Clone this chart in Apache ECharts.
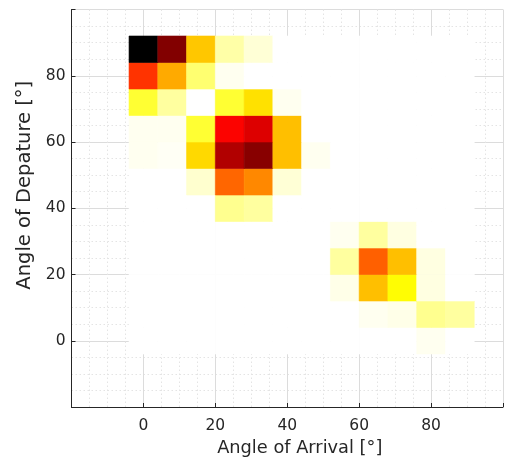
<!DOCTYPE html>
<html>
<head>
<meta charset="utf-8">
<script src="https://cdn.jsdelivr.net/npm/echarts@6/dist/echarts.min.js"></script>
<style>
html,body{margin:0;padding:0;background:#fff;}
#chart{width:506px;height:462px;}
</style>
</head>
<body>
<div id="chart"></div>
<script>
// Bin centres (degrees)
const aoaBins = [0, 8, 16, 24, 32, 40, 48, 56, 64, 72, 80, 88];
const aodBins = [0, 8, 16, 24, 32, 40, 48, 56, 64, 72, 80, 88];
const binWidth = 8;

// Intensity per AoD row (bottom to top), columns follow aoaBins
const row0  = [0, 0, 0, 0, 0, 0, 0, 0, 0, 0, 1.5, 0];
const row8  = [0, 0, 0, 0, 0, 0, 0, 0, 1.5, 2.3, 11, 9.4];
const row16 = [0, 0, 0, 0, 0, 0, 0, 2.3, 34.4, 25, 3, 0];
const row24 = [0, 0, 0, 0, 0, 0, 0, 9.4, 48.4, 34.4, 3, 0];
const row32 = [0, 0, 0, 0, 0, 0, 0, 1.5, 9.4, 3, 0, 0];
const row40 = [0, 0, 0, 11, 9.4, 0, 0, 0, 0, 0, 0, 0];
const row48 = [0, 0, 4.7, 47.5, 42.6, 4, 0, 0, 0, 0, 0, 0];
const row56 = [1.5, 1, 30.6, 74, 80, 34.4, 1.5, 0, 0, 0, 0, 0];
const row64 = [1.5, 1.5, 20, 62.5, 67.5, 34.4, 0, 0, 0, 0, 0, 0];
const row72 = [20, 9.4, 0, 20, 29.5, 1.5, 0, 0, 0, 0, 0, 0];
const row80 = [55, 37.5, 14, 1.5, 0, 0, 0, 0, 0, 0, 0, 0];
const row88 = [100, 81, 33.2, 8.6, 4, 0, 0, 0, 0, 0, 0, 0];
const rows = [row0, row8, row16, row24, row32, row40, row48, row56, row64, row72, row80, row88];

const xTickLabels = ['0', '20', '40', '60', '80'];
const yTickLabels = ['0', '20', '40', '60', '80'];

// flipped "hot" colormap
function hotFlipped(n) {
  const out = [];
  for (let i = 0; i < n; i++) {
    const t = 1 - i / (n - 1);
    const r = Math.min(1, Math.max(0, t / 0.375));
    const g = Math.min(1, Math.max(0, (t - 0.375) / 0.375));
    const b = Math.min(1, Math.max(0, (t - 0.75) / 0.25));
    const h = v => Math.round(v * 255).toString(16).padStart(2, '0');
    out.push('#' + h(r) + h(g) + h(b));
  }
  return out;
}

const data = [];
rows.forEach((row, j) => {
  row.forEach((v, i) => data.push([aoaBins[i], aodBins[j], v]));
});

const FONT = 'DejaVu Sans';
const TXT = '#262626';

const chart = echarts.init(document.getElementById('chart'), null, {renderer: 'canvas'});
chart.setOption({
  animation: false,
  backgroundColor: '#ffffff',
  grid: {left: 71.5, top: 9.5, width: 437, height: 400},
  visualMap: {
    show: false, type: 'continuous', min: 0, max: 100, dimension: 2, seriesIndex: 0,
    inRange: {color: hotFlipped(64)}
  },
  xAxis: {
    type: 'value', min: -20, max: 100, interval: 20,
    name: 'Angle of Arrival [°]', nameLocation: 'middle', nameGap: 32,
    nameTextStyle: {fontFamily: FONT, fontSize: 17.8, color: TXT, padding: [0, 0, 0, 25]},
    axisLine: {show: true, onZero: false, lineStyle: {color: TXT, width: 1}},
    axisTick: {show: true, inside: true, length: 4, lineStyle: {color: TXT}},
    minorTick: {show: false, splitNumber: 4},
    axisLabel: {
      fontFamily: FONT, fontSize: 15.5, color: TXT, margin: 11,
      formatter: v => xTickLabels.includes(String(v)) ? String(v) : ''
    },
    splitLine: {show: true, lineStyle: {color: '#dcdcdc', width: 1}},
    minorSplitLine: {show: true, lineStyle: {color: '#e4e4e4', width: 1, type: [1.5, 2.5]}}
  },
  yAxis: {
    type: 'value', min: -20, max: 100, interval: 20,
    name: 'Angle of Depature [°]', nameLocation: 'middle', nameGap: 35,
    nameTextStyle: {fontFamily: FONT, fontSize: 19.5, color: TXT, padding: [0, 0, 0, 46]},
    axisLine: {show: true, onZero: false, lineStyle: {color: TXT, width: 1}},
    axisTick: {show: true, inside: true, length: 4, lineStyle: {color: TXT}},
    minorTick: {show: false, splitNumber: 4},
    axisLabel: {
      fontFamily: FONT, fontSize: 15.5, color: TXT, margin: 6, padding: [5, 0, 0, 0],
      formatter: v => yTickLabels.includes(String(v)) ? String(v) : ''
    },
    splitLine: {show: true, lineStyle: {color: '#dcdcdc', width: 1}},
    minorSplitLine: {show: true, lineStyle: {color: '#e4e4e4', width: 1, type: [1.5, 2.5]}}
  },
  series: [{
    type: 'custom',
    data: data,
    encode: {x: 0, y: 1},
    renderItem: function (params, api) {
      const x = api.value(0), y = api.value(1);
      const p0 = api.coord([x - binWidth / 2, y + binWidth / 2]);
      const p1 = api.coord([x + binWidth / 2, y - binWidth / 2]);
      const c = api.visual('color');
      return {
        type: 'rect',
        shape: {x: p0[0], y: p0[1], width: p1[0] - p0[0], height: p1[1] - p0[1]},
        style: {fill: c, stroke: c, lineWidth: 0.6}
      };
    }
  }]
});
</script>
</body>
</html>
